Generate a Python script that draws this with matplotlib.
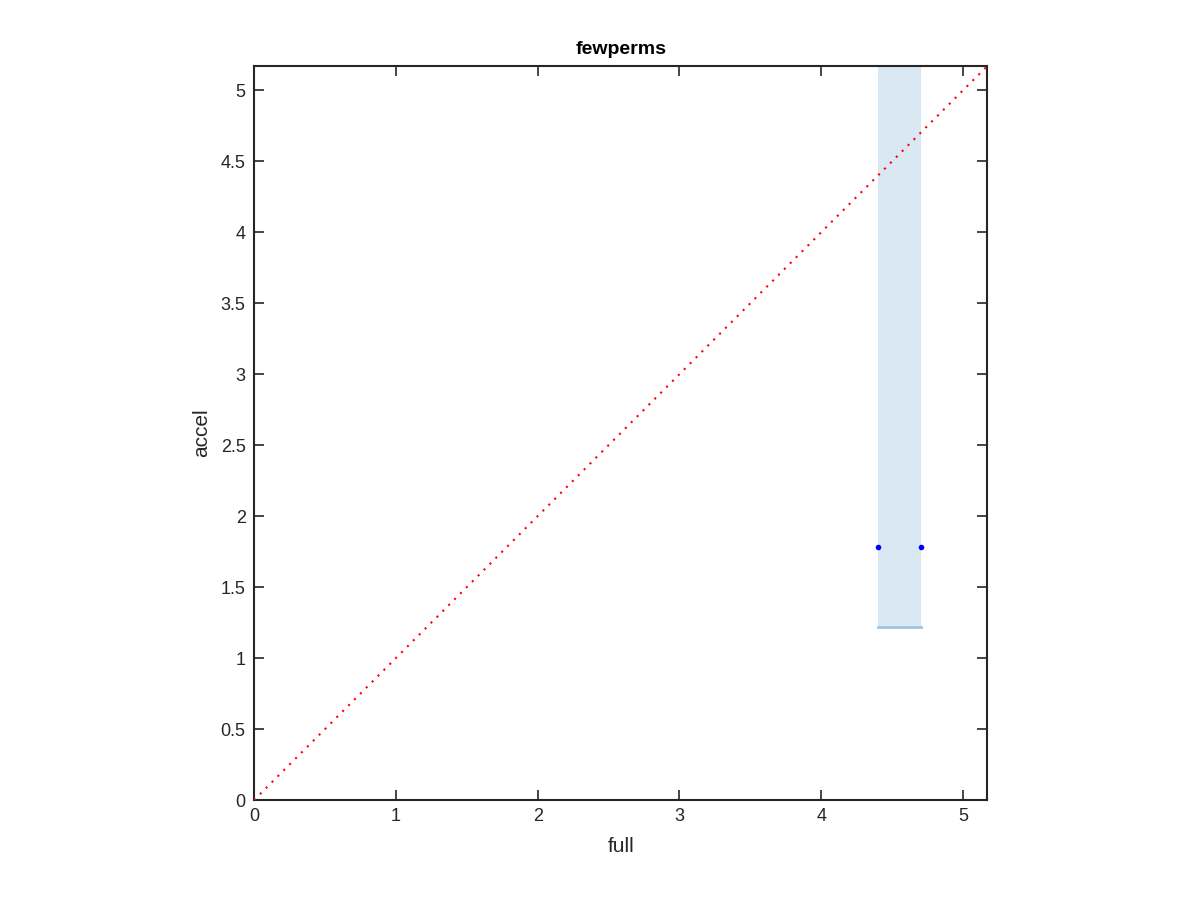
import numpy as np
import matplotlib.pyplot as plt

plt.rcParams['font.family'] = ['Liberation Sans', 'DejaVu Sans']

# data
lim = 5.17
band_x = [4.40, 4.70]
band_low = 1.22
pts_x = [4.40, 4.70]
pts_y = [1.78, 1.78]
xticks = [0, 1, 2, 3, 4, 5]
yticks = [0, 0.5, 1, 1.5, 2, 2.5, 3, 3.5, 4, 4.5, 5]
yticklabels = ['0', '0.5', '1', '1.5', '2', '2.5', '3', '3.5', '4', '4.5', '5']

fig = plt.figure(figsize=(12, 9), dpi=100)
ax = fig.add_axes([0.2117, 0.111, 0.611, 0.8156])

ax.fill_between(band_x, [band_low, band_low], [lim, lim],
                color='#d9e8f3', linewidth=0, zorder=1)
ax.plot(band_x, [band_low, band_low], color='#9cc5ea', lw=2, zorder=2)
ax.plot([0, lim], [0, lim], color='red', ls=(0, (1, 3)), lw=1.5, zorder=3)
ax.plot(pts_x, pts_y, 'o', color='blue', ms=3, ls='none', zorder=4)

ax.set_xlim(0, lim)
ax.set_ylim(0, lim)
ax.set_xticks(xticks)
ax.set_yticks(yticks)
ax.set_yticklabels(yticklabels)
ax.tick_params(direction='in', top=True, right=True, length=7, width=1.2,
               labelsize=13, colors='#262626', pad=6)
for s in ax.spines.values():
    s.set_linewidth(1.5)
    s.set_color('#262626')

ax.set_title('fewperms', fontsize=14, fontweight='bold', pad=9)
ax.set_xlabel('full', fontsize=15, color='#262626', labelpad=8)
ax.set_ylabel('accel', fontsize=15, color='#262626', labelpad=7)

fig.savefig('out.png', dpi=100)
